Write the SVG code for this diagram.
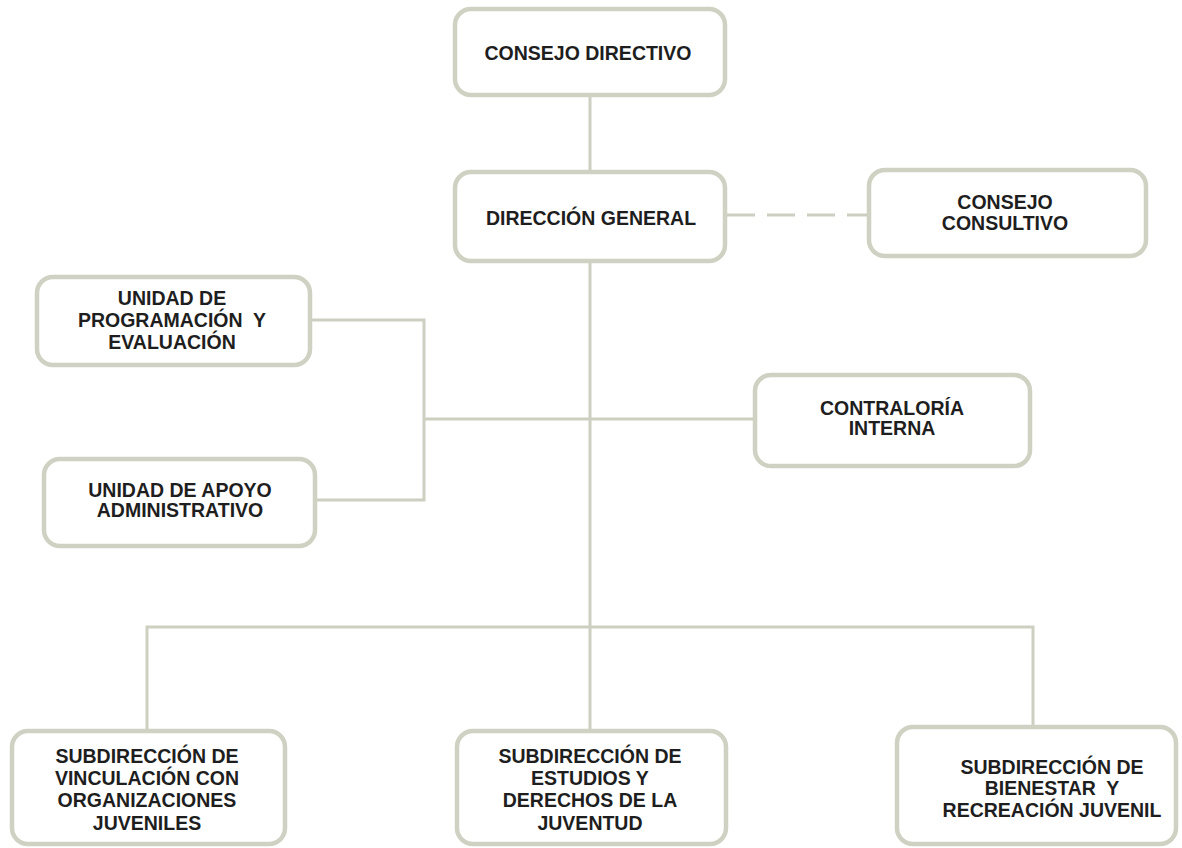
<svg xmlns="http://www.w3.org/2000/svg" width="1182" height="848" viewBox="0 0 1182 848">
<style>
.box{fill:#ffffff;stroke:#cfd1c2;stroke-width:4.5}
.ln{fill:none;stroke:#cdcfc0;stroke-width:3}
.dash{fill:none;stroke:#cdcfc0;stroke-width:3;stroke-dasharray:28 12}
text{font-family:"Liberation Sans",Arial,sans-serif;font-weight:bold;font-size:19.5px;fill:#1e1e1e;text-anchor:middle;white-space:pre}
</style>
<rect width="1182" height="848" fill="#ffffff"/>
<g id="connectors">
<line class="ln" x1="590" y1="95" x2="590" y2="172"/>
<line class="ln" x1="590" y1="261" x2="590" y2="731"/>
<line class="dash" x1="727" y1="215" x2="869" y2="215"/>
<polyline class="ln" points="312,320 424,320 424,500 317,500"/>
<line class="ln" x1="424" y1="419" x2="755" y2="419"/>
<polyline class="ln" points="147,729 147,627 1033,627 1033,725"/>
</g>
<g id="consejo-directivo">
<rect class="box" x="455" y="9" width="270" height="86" rx="16"/>
<text x="588" y="60">CONSEJO DIRECTIVO</text>
</g>
<g id="direccion-general">
<rect class="box" x="455" y="172" width="270" height="89" rx="16"/>
<text x="591" y="225">DIRECCIÓN GENERAL</text>
</g>
<g id="consejo-consultivo">
<rect class="box" x="869" y="170" width="277" height="86" rx="16"/>
<text x="1005" y="209">CONSEJO</text>
<text x="1005" y="230">CONSULTIVO</text>
</g>
<g id="unidad-programacion">
<rect class="box" x="37" y="277" width="273" height="88" rx="16"/>
<text x="172" y="305">UNIDAD DE</text>
<text x="172" y="327" xml:space="preserve">PROGRAMACIÓN  Y</text>
<text x="172" y="349">EVALUACIÓN</text>
</g>
<g id="contraloria-interna">
<rect class="box" x="755" y="375" width="275" height="91" rx="16"/>
<text x="892" y="415">CONTRALORÍA</text>
<text x="892" y="435">INTERNA</text>
</g>
<g id="unidad-apoyo">
<rect class="box" x="44" y="459" width="271" height="87" rx="16"/>
<text x="180" y="497">UNIDAD DE APOYO</text>
<text x="180" y="517">ADMINISTRATIVO</text>
</g>
<g id="subdireccion-vinculacion">
<rect class="box" x="12" y="731" width="273" height="113" rx="16"/>
<text x="147" y="763">SUBDIRECCIÓN DE</text>
<text x="147" y="785">VINCULACIÓN CON</text>
<text x="147" y="807">ORGANIZACIONES</text>
<text x="147" y="830">JUVENILES</text>
</g>
<g id="subdireccion-estudios">
<rect class="box" x="457" y="731" width="269" height="113" rx="16"/>
<text x="590" y="763">SUBDIRECCIÓN DE</text>
<text x="590" y="785">ESTUDIOS Y</text>
<text x="590" y="807">DERECHOS DE LA</text>
<text x="590" y="830">JUVENTUD</text>
</g>
<g id="subdireccion-bienestar">
<rect class="box" x="897" y="727" width="279" height="117" rx="16"/>
<text x="1052" y="774">SUBDIRECCIÓN DE</text>
<text x="1052" y="795" xml:space="preserve">BIENESTAR  Y</text>
<text x="1052" y="817">RECREACIÓN JUVENIL</text>
</g>
</svg>
